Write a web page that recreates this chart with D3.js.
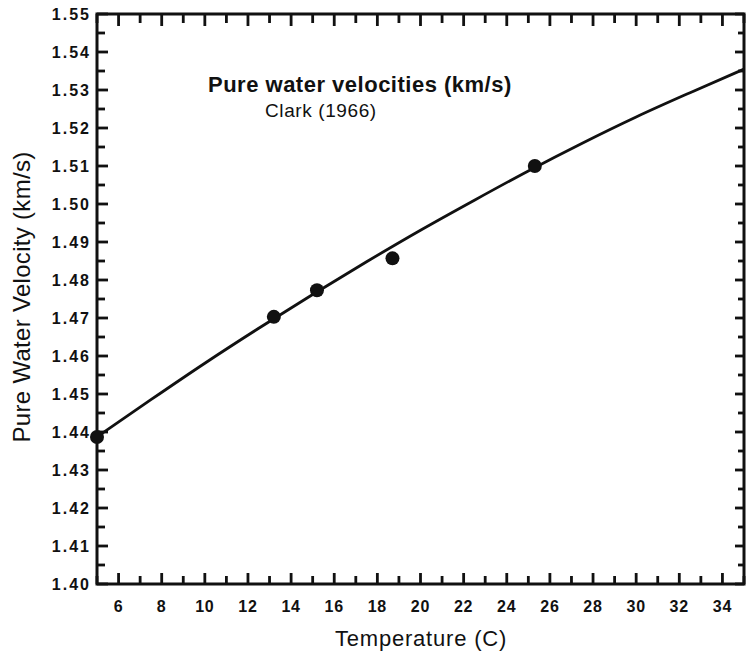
<!DOCTYPE html>
<html>
<head>
<meta charset="utf-8">
<script src="https://cdn.jsdelivr.net/npm/d3@7"></script>
<style>
  html, body { margin: 0; padding: 0; background: #fff; }
</style>
</head>
<body>
<div id="chart"></div>
<script>
// fitted curve (temperature C, velocity km/s)
const curveTemp = [5, 7.5, 10, 12.5, 15, 17.5, 20, 22.5, 25, 27.5, 30, 32.5, 35];
const curveVel  = [1.4387, 1.4485, 1.4581, 1.4673, 1.4762, 1.4848, 1.4931, 1.5010, 1.5087, 1.5160, 1.5229, 1.5293, 1.5355];

// measured points (Clark 1966)
const pointTemp = [5, 13.2, 15.2, 18.7, 25.3];
const pointVel  = [1.4387, 1.4703, 1.4773, 1.4857, 1.5100];

const xMajor = [6, 8, 10, 12, 14, 16, 18, 20, 22, 24, 26, 28, 30, 32, 34];
const xMinor = [5, 7, 9, 11, 13, 15, 17, 19, 21, 23, 25, 27, 29, 31, 33, 35];
const yMajor = [1.40, 1.41, 1.42, 1.43, 1.44, 1.45, 1.46, 1.47, 1.48, 1.49, 1.50, 1.51, 1.52, 1.53, 1.54, 1.55];
const yMinor = [1.405, 1.415, 1.425, 1.435, 1.445, 1.455, 1.465, 1.475, 1.485, 1.495, 1.505, 1.515, 1.525, 1.535, 1.545];

const titleText = "Pure water velocities (km/s)";
const subText = "Clark (1966)";
const xTitle = "Temperature (C)";
const yTitle = "Pure Water Velocity (km/s)";

const W = 747, H = 658;
const FONT = "Liberation Sans, Arial, Helvetica, sans-serif";
const svg = d3.select("#chart").append("svg")
  .attr("width", W).attr("height", H).attr("viewBox", `0 0 ${W} ${H}`);

const x = d3.scaleLinear().domain([5, 35]).range([97, 744]);
const y = d3.scaleLinear().domain([1.40, 1.55]).range([584, 14]);

// frame
svg.append("rect").attr("x", 97).attr("y", 14).attr("width", 647).attr("height", 570)
  .attr("fill", "none").attr("stroke", "#111").attr("stroke-width", 3);

// inward ticks (bottom/top along x, left/right along y)
function xTicks(vals, len, edge, down) {
  svg.append("g").selectAll("rect").data(vals).join("rect")
    .attr("x", d => x(d) - 1.4).attr("width", 2.8)
    .attr("y", down ? edge : edge - len).attr("height", len)
    .attr("fill", "#111");
}
function yTicks(vals, len, edge, right) {
  svg.append("g").selectAll("rect").data(vals).join("rect")
    .attr("y", d => y(d) - 1.4).attr("height", 2.8)
    .attr("x", right ? edge : edge - len).attr("width", len)
    .attr("fill", "#111");
}
xTicks(xMajor, 11, 584, false);
xTicks(xMinor, 8, 584, false);
xTicks(xMajor, 12, 14, true);
xTicks(xMinor, 9, 14, true);
yTicks(yMajor, 11, 97, true);
yTicks(yMinor, 8, 97, true);
yTicks(yMajor, 9, 744, false);
yTicks(yMinor, 6, 744, false);

// curve
const line = d3.line().x(d => x(d[0])).y(d => y(d[1])).curve(d3.curveMonotoneX);
svg.append("path")
  .datum(curveTemp.map((t, i) => [t, curveVel[i]]))
  .attr("d", line)
  .attr("fill", "none").attr("stroke", "#111").attr("stroke-width", 2.8);

// points
svg.append("g").selectAll("circle")
  .data(pointTemp.map((t, i) => [t, pointVel[i]]))
  .join("circle")
  .attr("cx", d => x(d[0])).attr("cy", d => y(d[1]))
  .attr("r", 7).attr("fill", "#111");

// tick labels
const fmtY = d3.format(".2f");
svg.append("g").selectAll("text").data(xMajor).join("text")
  .attr("x", d => x(d)).attr("y", 612)
  .attr("text-anchor", "middle")
  .attr("font-family", FONT).attr("font-size", 16).attr("font-weight", "bold")
  .attr("letter-spacing", 0.8).attr("fill", "#111")
  .text(d => d);
svg.append("g").selectAll("text").data(yMajor).join("text")
  .attr("x", 91).attr("y", d => y(d) + 6)
  .attr("text-anchor", "end")
  .attr("font-family", FONT).attr("font-size", 16).attr("font-weight", "bold")
  .attr("letter-spacing", 2).attr("fill", "#111")
  .text(d => fmtY(d));

// titles
svg.append("text").attr("x", 208).attr("y", 92)
  .attr("font-family", FONT).attr("font-size", 22).attr("font-weight", "bold")
  .attr("letter-spacing", 0.5).attr("fill", "#111")
  .text(titleText);
svg.append("text").attr("x", 265).attr("y", 117)
  .attr("font-family", FONT).attr("font-size", 19)
  .attr("letter-spacing", 0.6).attr("fill", "#111")
  .text(subText);
svg.append("text").attr("x", 421).attr("y", 646).attr("text-anchor", "middle")
  .attr("font-family", FONT).attr("font-size", 22)
  .attr("letter-spacing", 0.8).attr("fill", "#111")
  .text(xTitle);
svg.append("text").attr("transform", "translate(30,297) rotate(-90)").attr("text-anchor", "middle")
  .attr("font-family", FONT).attr("font-size", 24)
  .attr("letter-spacing", 0.3).attr("fill", "#111")
  .text(yTitle);
</script>
</body>
</html>
